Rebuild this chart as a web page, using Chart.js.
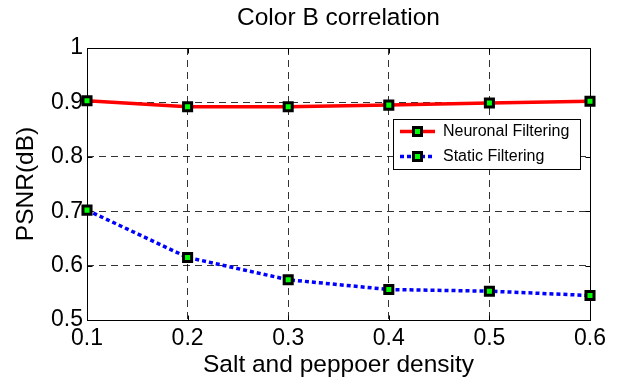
<!DOCTYPE html>
<html>
<head>
<meta charset="utf-8">
<title>Color B correlation</title>
<script src="https://cdn.jsdelivr.net/npm/chart.js@4.4.1/dist/chart.umd.min.js"></script>
<style>
  body { margin: 0; background: #fff; }
  #wrap { width: 621px; height: 381px; }
</style>
</head>
<body>
<div id="wrap"><canvas id="myCanvas" width="621" height="381"></canvas></div>
<script>
// values
const densities = ['0.1', '0.2', '0.3', '0.4', '0.5', '0.6'];
const neuronalPsnr = [0.903, 0.892, 0.892, 0.895, 0.899, 0.902];
const staticPsnr = [0.702, 0.615, 0.574, 0.556, 0.553, 0.545];
const yTickLabels = ['0.5', '0.6', '0.7', '0.8', '0.9', '1'];
const seriesNames = ['Neuronal Filtering', 'Static Filtering'];

const FONT = '"Liberation Sans", Arial, Helvetica, sans-serif';
Chart.defaults.font.family = FONT;
Chart.defaults.color = '#000';

// line + marker sample for the legend, matlab style
function legendSample(color, dash, width) {
    const c = document.createElement('canvas');
    c.width = 37; c.height = 15;
    const g = c.getContext('2d');
    g.strokeStyle = color; g.lineWidth = width; g.setLineDash(dash);
    g.beginPath(); g.moveTo(1, 7.5); g.lineTo(36, 7.5); g.stroke();
    g.fillStyle = '#000'; g.fillRect(13, 2, 11, 11);
    g.fillStyle = '#00ff00'; g.fillRect(16, 5, 5, 5);
    return c;
}
const samples = [legendSample('#ff0000', [], 3.5), legendSample('#0000ff', [4, 3], 3.5)];

// boxed axes, inward ticks and the legend frame
const framePlugin = {
    id: 'matlabFrame',
    afterLayout(chart) {
        const lg = chart.legend;
        lg.left = 391; lg.top = 114.5; lg.right = 580; lg.bottom = 175;
        lg.width = lg.right - lg.left; lg.height = lg.bottom - lg.top;
        if (!lg._boxed) {
            const draw = lg.draw.bind(lg);
            lg.draw = function () {
                const ctx = chart.ctx;
                ctx.save();
                ctx.fillStyle = '#fff'; ctx.strokeStyle = '#000'; ctx.lineWidth = 1;
                ctx.fillRect(393.5, 119.5, 187, 50);
                ctx.strokeRect(393.5, 119.5, 187, 50);
                ctx.restore();
                draw();
            };
            lg._boxed = true;
        }
    },
    beforeDatasetsDraw(chart) {
        const { ctx, chartArea: a, scales: { x, y } } = chart;
        const L = Math.round(a.left) + 0.5, R = Math.round(a.right) + 0.5;
        const T = Math.round(a.top) + 0.5, B = Math.round(a.bottom) + 0.5;
        ctx.save();
        ctx.strokeStyle = '#000'; ctx.lineWidth = 1;
        ctx.beginPath();
        x.ticks.forEach((t, i) => {
            const px = Math.round(x.getPixelForTick(i)) + 0.5;
            ctx.moveTo(px, B); ctx.lineTo(px, B - 5);
            ctx.moveTo(px, T); ctx.lineTo(px, T + 5);
        });
        y.ticks.forEach((t, i) => {
            const py = Math.round(y.getPixelForTick(i)) + 0.5;
            ctx.moveTo(L, py); ctx.lineTo(L + 5, py);
            ctx.moveTo(R, py); ctx.lineTo(R - 5, py);
        });
        ctx.stroke();
        ctx.strokeRect(L, T, R - L, B - T);
        ctx.restore();
    }
};

const ctx = document.getElementById('myCanvas').getContext('2d');

const data = {
    labels: densities,
    datasets: [{
        label: seriesNames[0],
        data: neuronalPsnr,
        borderColor: '#ff0000',
        borderWidth: 3.5,
        pointStyle: 'rect',
        pointRadius: 5.7,
        pointBorderWidth: 3,
        pointBorderColor: '#000',
        pointBackgroundColor: '#00ff00',
        tension: 0,
        fill: false,
        clip: false
    }, {
        label: seriesNames[1],
        data: staticPsnr,
        borderColor: '#0000ff',
        borderWidth: 3.5,
        borderDash: [4, 3],
        pointStyle: 'rect',
        pointRadius: 5.7,
        pointBorderWidth: 3,
        pointBorderColor: '#000',
        pointBackgroundColor: '#00ff00',
        tension: 0,
        fill: false,
        clip: false
    }]
};

const gridColor = 'rgba(0,0,0,0.8)';

const config = {
    type: 'line',
    data: data,
    plugins: [framePlugin],
    options: {
        responsive: false,
        animation: false,
        layout: { padding: { left: 0, right: 31, top: 0, bottom: 0 } },
        plugins: {
            title: {
                display: true,
                fullSize: false,
                text: 'Color B correlation',
                color: '#000',
                font: { size: 24.5, weight: 'normal' },
                padding: { top: 4, bottom: 14.6 }
            },
            legend: {
                position: 'chartArea',
                align: 'start',
                labels: {
                    usePointStyle: true,
                    pointStyleWidth: 35,
                    padding: 9,
                    color: '#000',
                    font: { size: 16 },
                    generateLabels: (chart) => chart.data.datasets.map((ds, i) => ({
                        text: ds.label,
                        pointStyle: samples[i],
                        datasetIndex: i,
                        hidden: false,
                        lineWidth: 0,
                        fontColor: '#000'
                    }))
                }
            },
            tooltip: { enabled: false }
        },
        scales: {
            x: {
                type: 'category',
                offset: false,
                grid: { color: gridColor, lineWidth: 1, drawTicks: false },
                border: { display: false, dash: [7, 5] },
                ticks: { color: '#000', font: { size: 23 }, padding: 5, maxRotation: 0, autoSkip: false },
                title: {
                    display: true,
                    text: 'Salt and peppoer density',
                    color: '#000',
                    font: { size: 24.5 },
                    padding: { top: 0, bottom: 1 }
                },
                afterFit(s) { s.height = 61; }
            },
            y: {
                min: 0.5,
                max: 1,
                grid: { color: gridColor, lineWidth: 1, drawTicks: false },
                border: { display: false, dash: [7, 5] },
                ticks: {
                    stepSize: 0.1,
                    color: '#000',
                    font: { size: 23 },
                    padding: 4,
                    callback: (v, i) => yTickLabels[i] ?? ''
                },
                title: {
                    display: true,
                    text: 'PSNR(dB)',
                    color: '#000',
                    font: { size: 24.5 },
                    padding: { top: 11.3, bottom: 0 }
                },
                afterFit(s) { s.width = 87; }
            }
        }
    }
};

const myChart = new Chart(ctx, config);
</script>
</body>
</html>
